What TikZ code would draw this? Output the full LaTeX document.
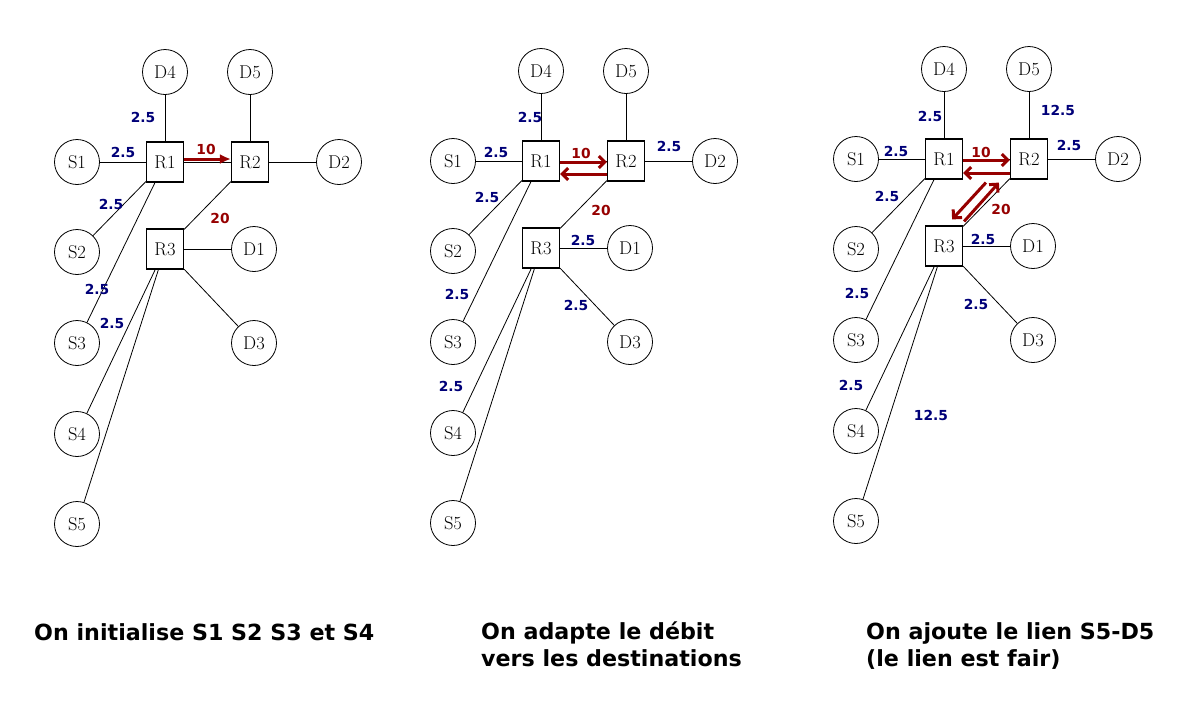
\documentclass[tikz,border=0pt]{standalone}
\usepackage{fontspec}
\newfontfamily\dejavub{DejaVu Sans Bold}
\usetikzlibrary{arrows.meta}
\definecolor{navylbl}{RGB}{0,0,120}
\definecolor{flowred}{RGB}{150,0,0}
\tikzset{
  host/.style={circle, draw, line width=0.8pt, minimum size=45pt, inner sep=0pt, font=\fontsize{18.5}{20}\selectfont},
  router/.style={rectangle, draw, line width=1.2pt, minimum width=37pt, minimum height=40pt, inner sep=0pt, font=\fontsize{18.5}{20}\selectfont},
  link/.style={line width=0.8pt},
  rate/.style={text=navylbl, font=\dejavub\fontsize{13.8}{15}\selectfont, inner sep=0pt},
  hot/.style={rate, text=flowred},
  flowA/.style={draw=flowred, line width=3pt, -{Latex[length=11pt,width=10pt]}},
  flowB/.style={draw=flowred, line width=3pt, -{Straight Barb[length=6pt,width=12pt]}},
  caption/.style={font=\dejavub\fontsize{22.2}{27}\selectfont, align=left, inner sep=0pt},
}
\newcommand\drawnet{%
  \node[router] (R1) at (0,0) {R1};
  \node[router] (R2) at (85,0) {R2};
  \node[router] (R3) at (0,87) {R3};
  \node[host] (S1) at (-88,0) {S1};
  \node[host] (S2) at (-88,90) {S2};
  \node[host] (S3) at (-88,181) {S3};
  \node[host] (S4) at (-88,272) {S4};
  \node[host] (S5) at (-88,362) {S5};
  \node[host] (D1) at (89,87) {D1};
  \node[host] (D2) at (174,0) {D2};
  \node[host] (D3) at (89,181) {D3};
  \node[host] (D4) at (0,-90) {D4};
  \node[host] (D5) at (85,-90) {D5};
  \draw[link] (S1) -- (R1);
  \draw[link] (S2) -- (R1);
  \draw[link] (S3) -- (R1);
  \draw[link] (D4) -- (R1);
  \draw[link] (R1) -- (R2);
  \draw[link] (R2) -- (D2);
  \draw[link] (R2) -- (D5);
  \draw[link] (R2) -- (R3);
  \draw[link] (R3) -- (D1);
  \draw[link] (R3) -- (D3);
  \draw[link] (R3) -- (S4);
  \draw[link] (R3) -- (S5);
}
\begin{document}
\begin{tikzpicture}[x=1pt,y=-1pt]
\path[use as bounding box] (0,0) rectangle (1185,702);
% Panel 1
\begin{scope}[shift={(165,162)}, name prefix=a-]
  \drawnet
  \draw[flowA] ([yshift=3pt]R1.east) -- ([yshift=3pt]R2.west);
  \node[rate] (l1) at (-22,-45) {2.5};
  \node[rate] (l2) at (-42,-10) {2.5};
  \node[hot]  (l3) at (41,-13) {10};
  \node[rate] (l4) at (-54,42) {2.5};
  \node[hot]  (l5) at (55,56) {20};
  \node[rate] (l6) at (-68,127) {2.5};
  \node[rate] (l7) at (-53,161) {2.5};
\end{scope}
% Panel 2
\begin{scope}[shift={(541,161)}, name prefix=b-]
  \drawnet
  \draw[flowB] ([yshift=-1pt]R1.east) -- ([yshift=-1pt]R2.west);
  \draw[flowB] ([yshift=-13pt]R2.west) -- ([yshift=-13pt]R1.east);
  \node[rate] (l1) at (-11,-44) {2.5};
  \node[rate] (l2) at (-45,-9) {2.5};
  \node[hot]  (l3) at (40,-8) {10};
  \node[rate] (l4) at (128,-15) {2.5};
  \node[rate] (l5) at (-54,36) {2.5};
  \node[hot]  (l6) at (60,49) {20};
  \node[rate] (l7) at (42,79) {2.5};
  \node[rate] (l8) at (-84,133) {2.5};
  \node[rate] (l9) at (35,144) {2.5};
  \node[rate] (l10) at (-90,225) {2.5};
\end{scope}
% Panel 3
\begin{scope}[shift={(944,159)}, name prefix=c-]
  \drawnet
  \draw[flowB] ([yshift=-1pt]R1.east) -- ([yshift=-1pt]R2.west);
  \draw[flowB] ([yshift=-14pt]R2.west) -- ([yshift=-14pt]R1.east);
  \draw[flowB] ([xshift=-24pt,yshift=-3pt]R2.south west) -- ([xshift=-11pt,yshift=6pt]R3.north east);
  \draw[flowB] ([xshift=1pt,yshift=4pt]R3.north east) -- ([xshift=-11pt,yshift=-3pt]R2.south west);
  \node[rate] (l1) at (-14,-43) {2.5};
  \node[rate] (l2) at (114,-49) {12.5};
  \node[rate] (l3) at (-48,-8) {2.5};
  \node[hot]  (l4) at (37,-7) {10};
  \node[rate] (l5) at (125,-14) {2.5};
  \node[rate] (l6) at (-57,37) {2.5};
  \node[hot]  (l7) at (57,50) {20};
  \node[rate] (l8) at (39,80) {2.5};
  \node[rate] (l9) at (-87,134) {2.5};
  \node[rate] (l10) at (32,145) {2.5};
  \node[rate] (l11) at (-93,226) {2.5};
  \node[rate] (l12) at (-13,256) {12.5};
\end{scope}
% Captions
\node[caption, anchor=base west] (cap1) at (34,640) {On initialise S1 S2 S3 et S4};
\node[caption, anchor=north west] (cap2) at (481,622) {On adapte le débit\\vers les destinations};
\node[caption, anchor=north west] (cap3) at (866,622) {On ajoute le lien S5-D5\\(le lien est fair)};
\end{tikzpicture}
\end{document}
